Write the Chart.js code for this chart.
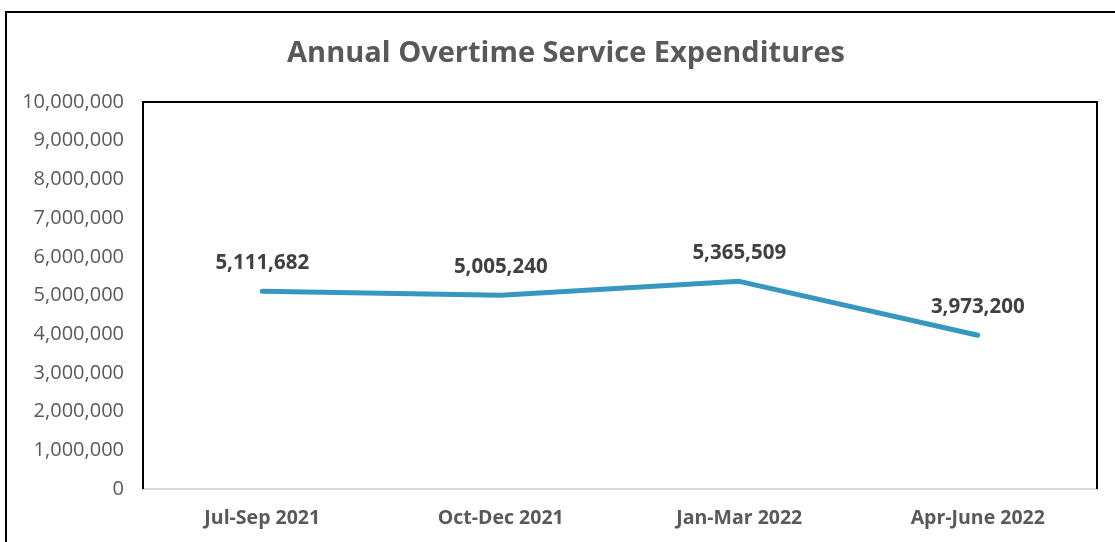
<!DOCTYPE html>
<html>
<head>
<meta charset="utf-8">
<script src="https://cdn.jsdelivr.net/npm/chart.js@4/dist/chart.umd.min.js"></script>
<style>
  html, body { margin: 0; padding: 0; background: #fff; }
  #wrap { width: 1115px; height: 542px; }
</style>
</head>
<body>
<div id="wrap"><canvas id="overtimeChart" width="1115" height="542"></canvas></div>
<script>
const quarters = ['Jul-Sep 2021', 'Oct-Dec 2021', 'Jan-Mar 2022', 'Apr-June 2022'];
const expenditures = [5111682, 5005240, 5365509, 3973200];
const yMin = 0;
const yMax = 10000000;
const yStep = 1000000;
const chartTitle = 'Annual Overtime Service Expenditures';

const fmt = (v) => Number(v).toLocaleString('en-US');

// outer frame, title and plot box
const framePlugin = {
    id: 'frame',
    beforeDraw(chart) {
        const ctx = chart.ctx;
        ctx.save();
        ctx.strokeStyle = '#000';
        ctx.lineWidth = 2;
        ctx.beginPath();
        ctx.moveTo(6, 542);
        ctx.lineTo(6, 12);
        ctx.lineTo(1115, 12);
        ctx.stroke();
        // title is centred on the frame, not on the plot area
        ctx.font = 'bold 29px "Open Sans"';
        ctx.fillStyle = '#595959';
        ctx.textAlign = 'center';
        ctx.textBaseline = 'middle';
        ctx.fillText(chartTitle, 566, 54);
        ctx.restore();
    },
    afterDatasetsDraw(chart) {
        const a = chart.chartArea;
        const ctx = chart.ctx;
        ctx.save();
        ctx.strokeStyle = '#000';
        ctx.lineWidth = 2;
        ctx.beginPath();
        ctx.moveTo(a.left, a.bottom);
        ctx.lineTo(a.left, a.top);
        ctx.lineTo(a.right, a.top);
        ctx.lineTo(a.right, a.bottom);
        ctx.stroke();
        ctx.restore();
    }
};

// value labels above each point
const labelPlugin = {
    id: 'valueLabels',
    afterDatasetsDraw(chart) {
        const ctx = chart.ctx;
        const meta = chart.getDatasetMeta(0);
        ctx.save();
        ctx.font = 'bold 20.5px "Open Sans"';
        ctx.fillStyle = '#404040';
        ctx.textAlign = 'center';
        ctx.textBaseline = 'middle';
        meta.data.forEach((pt, i) => {
            ctx.fillText(fmt(expenditures[i]), pt.x, pt.y - 28);
        });
        ctx.restore();
    }
};

const ctx = document.getElementById('overtimeChart').getContext('2d');
const overtimeChart = new Chart(ctx, {
    type: 'line',
    data: {
        labels: quarters,
        datasets: [{
            label: 'Overtime Expenditures',
            data: expenditures,
            borderColor: '#3797BF',
            borderWidth: 5,
            pointRadius: 0,
            tension: 0,
            borderCapStyle: 'round',
            borderJoinStyle: 'round'
        }]
    },
    options: {
        responsive: false,
        animation: false,
        layout: {
            padding: { left: 8, right: 18, top: 102, bottom: 0 }
        },
        plugins: {
            legend: { display: false },
            tooltip: { enabled: false },
            title: { display: false }
        },
        scales: {
            x: {
                offset: true,
                grid: { display: false },
                border: { display: true, color: '#d9d9d9', width: 2 },
                ticks: {
                    color: '#595959',
                    font: { family: 'Open Sans', size: 19.5, weight: 'bold' },
                    padding: 10
                },
                afterFit(scale) { scale.height = 53; }
            },
            y: {
                min: yMin,
                max: yMax,
                grid: { display: false },
                border: { display: false },
                ticks: {
                    stepSize: yStep,
                    color: '#595959',
                    font: { family: 'Open Sans', size: 20 },
                    padding: 11,
                    callback: (v) => fmt(v)
                },
                afterFit(scale) { scale.width = 135; }
            }
        }
    },
    plugins: [framePlugin, labelPlugin]
});
</script>
</body>
</html>
